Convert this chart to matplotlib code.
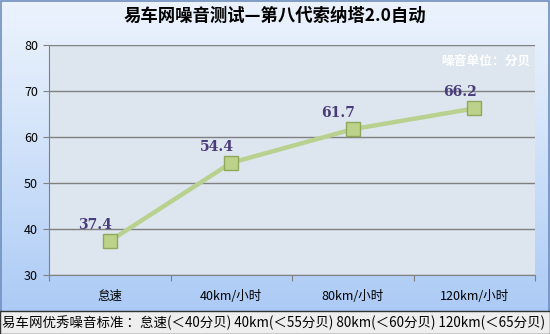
import numpy as np
import matplotlib.pyplot as plt
from matplotlib.patches import Rectangle

plt.rcParams['font.family'] = ['Noto Sans CJK SC', 'DejaVu Sans']

# 数据
categories = ['怠速', '40km/小时', '80km/小时', '120km/小时']
noise_db = [37.4, 54.4, 61.7, 66.2]
title = '易车网噪音测试—第八代索纳塔2.0自动'
unit_text = '噪音单位：分贝'
footer_text = '易车网优秀噪音标准 ：怠速(＜40分贝) 40km(＜55分贝) 80km(＜60分贝) 120km(＜65分贝)'

W, H = 550, 334
fig = plt.figure(figsize=(W / 100, H / 100), dpi=100)

# 背景渐变（上浅下蓝）
bg = fig.add_axes([0, 0, 1, 1], zorder=0)
t = np.linspace(0, 1, 256)[:, None, None] ** 1.2
top = np.array([0.92, 0.95, 0.99])
bot = np.array([0.65, 0.78, 0.96])
img = top * (1 - t) + bot * t
bg.imshow(img, extent=[0, 1, 0, 1], aspect='auto', origin='upper')
bg.set_axis_off()
bg.add_patch(Rectangle((0.0015, 0.002), 0.997, 0.996, fill=False, edgecolor='#6f8fbf', lw=1.2))

# 主图
ax = fig.add_axes([49 / W, 1 - 275 / H, (535 - 49) / W, (275 - 45) / H], zorder=1)
ax.set_facecolor('#dde5ef')
x = np.arange(len(categories))
ax.plot(x, noise_db, color='#b9d18e', lw=3.2, zorder=3, solid_capstyle='round')
ax.plot(x, noise_db, ls='none', marker='s', ms=10.5, mfc='#bcd28a', mec='#8ea85a', mew=1, zorder=4)
for xi, yi in zip(x, noise_db):
    ax.text(xi - 0.12, yi + 2.0, f'{yi}', ha='center', va='bottom', fontsize=10,
            fontweight='bold', family='DejaVu Serif', color='#4a3c7c', zorder=5)
ax.set_xlim(-0.5, len(categories) - 0.5)
ax.set_ylim(30, 80)
ax.set_yticks(range(30, 81, 10))
ax.yaxis.grid(True, color='#808080', lw=1)
ax.set_axisbelow(True)
ax.set_xticks(np.arange(-0.5, len(categories), 1))
ax.set_xticklabels([])
ax.set_xticks(x, minor=True)
ax.set_xticklabels(categories, minor=True, fontsize=9)
ax.tick_params(axis='x', which='minor', length=0, pad=11)
ax.tick_params(axis='x', which='major', length=4, color='#808080', direction='out')
ax.tick_params(axis='y', labelsize=9, length=4, color='#808080', pad=4)
for s in ['top', 'right']:
    ax.spines[s].set_visible(False)
for s in ['left', 'bottom']:
    ax.spines[s].set_color('#808080')
ax.text(0.99, 0.93, unit_text, transform=ax.transAxes, ha='right', va='center',
        fontsize=9.2, fontweight='bold', color='white')

fig.text(0.5, 1 - 16 / H, title, ha='center', va='center', fontsize=12.5, fontweight='bold')

# 底部说明栏
fig.patches.append(Rectangle((0, 0), 1, 23 / H, transform=fig.transFigure,
                             facecolor='#eeeeee', edgecolor='#333333', lw=1, zorder=2))
fig.text(2 / W, 11.5 / H, footer_text, ha='left', va='center', fontsize=9.7, zorder=3)

fig.savefig('out.png', dpi=100)
